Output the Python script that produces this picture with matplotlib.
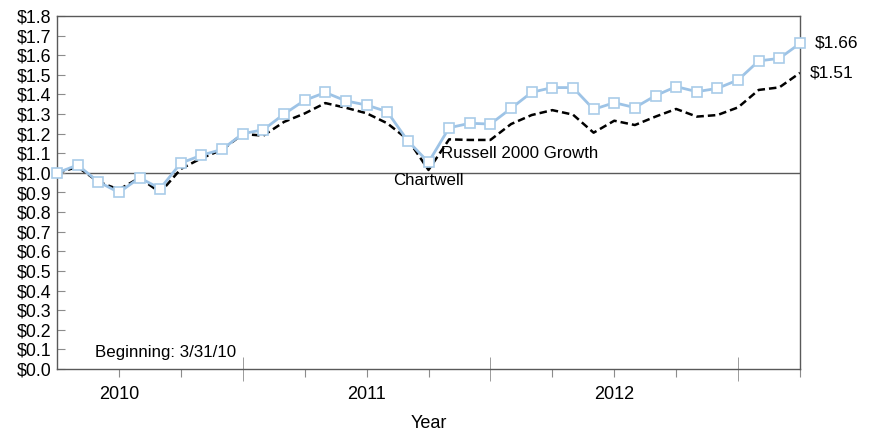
import matplotlib
matplotlib.use("Agg")
import matplotlib.pyplot as plt
import numpy as np

plt.rcParams['font.family'] = ['Liberation Sans', 'DejaVu Sans']

# Month-end values of $1 invested, starting 3/31/10 (37 monthly points)
months = list(range(37))
russell_2000_growth = [
    1.00, 1.04, 0.955, 0.90, 0.975, 0.92, 1.05, 1.09, 1.12, 1.20,
    1.22, 1.30, 1.37, 1.41, 1.367, 1.346, 1.312, 1.163, 1.054, 1.23,
    1.253, 1.249, 1.329, 1.411, 1.435, 1.435, 1.324, 1.358, 1.333, 1.394,
    1.44, 1.414, 1.431, 1.474, 1.571, 1.584, 1.66,
]
chartwell = [
    1.00, 1.03, 0.955, 0.915, 0.975, 0.90, 1.02, 1.075, 1.118, 1.198,
    1.19, 1.26, 1.303, 1.356, 1.332, 1.304, 1.253, 1.17, 1.015, 1.171,
    1.168, 1.168, 1.249, 1.295, 1.32, 1.297, 1.205, 1.266, 1.244, 1.287,
    1.326, 1.287, 1.295, 1.334, 1.423, 1.436, 1.51,
]
year_labels = ['2010', '2011', '2012']
year_label_pos = [3, 15, 27]
quarter_ticks = [3, 6, 12, 15, 18, 24, 27, 30, 36]
year_end_ticks = [9, 21, 33]
y_ticks = np.round(np.arange(0, 1.81, 0.1), 1)

fig = plt.figure(figsize=(8.8, 4.36), dpi=100)
ax = fig.add_axes([57 / 880, 67 / 436, 743 / 880, 353 / 436])

ax.axhline(1.0, color='#595959', lw=1.0, zorder=1)
ax.plot(months, chartwell, color='black', lw=1.8, linestyle=(0, (3, 1.6)), zorder=2)
ax.plot(months, russell_2000_growth, color='#9dc3e6', lw=2.0, marker='s',
        markersize=7.5, markerfacecolor='white', markeredgecolor='#a9cce9',
        markeredgewidth=1.2, zorder=3, clip_on=False)

ax.set_xlim(0, 36)
ax.set_ylim(0, 1.8)

for s in ax.spines.values():
    s.set_color('#595959')
    s.set_linewidth(1.0)

ax.set_yticks(y_ticks)
ax.set_yticklabels([f'${v:.1f}' for v in y_ticks], fontsize=12.8)
ax.tick_params(axis='y', direction='in', length=6, color='#8c8c8c', pad=4)

ax.set_xticks(quarter_ticks)
ax.set_xticklabels([year_labels[year_label_pos.index(t)] if t in year_label_pos else ''
                    for t in quarter_ticks], fontsize=13)
ax.tick_params(axis='x', which='major', direction='out', length=6, color='#8c8c8c', pad=6)
ax.set_xticks(year_end_ticks, minor=True)
ax.tick_params(axis='x', which='minor', direction='inout', length=17, color='#8c8c8c')

ax.set_xlabel('Year', fontsize=13, labelpad=9)

ax.text(18.6, 1.10, 'Russell 2000 Growth', fontsize=12.2, ha='left', va='center')
ax.text(16.3, 0.962, 'Chartwell', fontsize=12.2, ha='left', va='center')
ax.text(1.85, 0.082, 'Beginning: 3/31/10', fontsize=12.2, ha='left', va='center')

ax.annotate(f'${russell_2000_growth[-1]:.2f}', xy=(36, russell_2000_growth[-1]),
            xytext=(15, 0), textcoords='offset pixels', fontsize=12.5,
            ha='left', va='center', annotation_clip=False)
ax.annotate(f'${chartwell[-1]:.2f}', xy=(36, chartwell[-1]),
            xytext=(10, 0), textcoords='offset pixels', fontsize=12.5,
            ha='left', va='center', annotation_clip=False)

fig.savefig('out.png', dpi=100)
